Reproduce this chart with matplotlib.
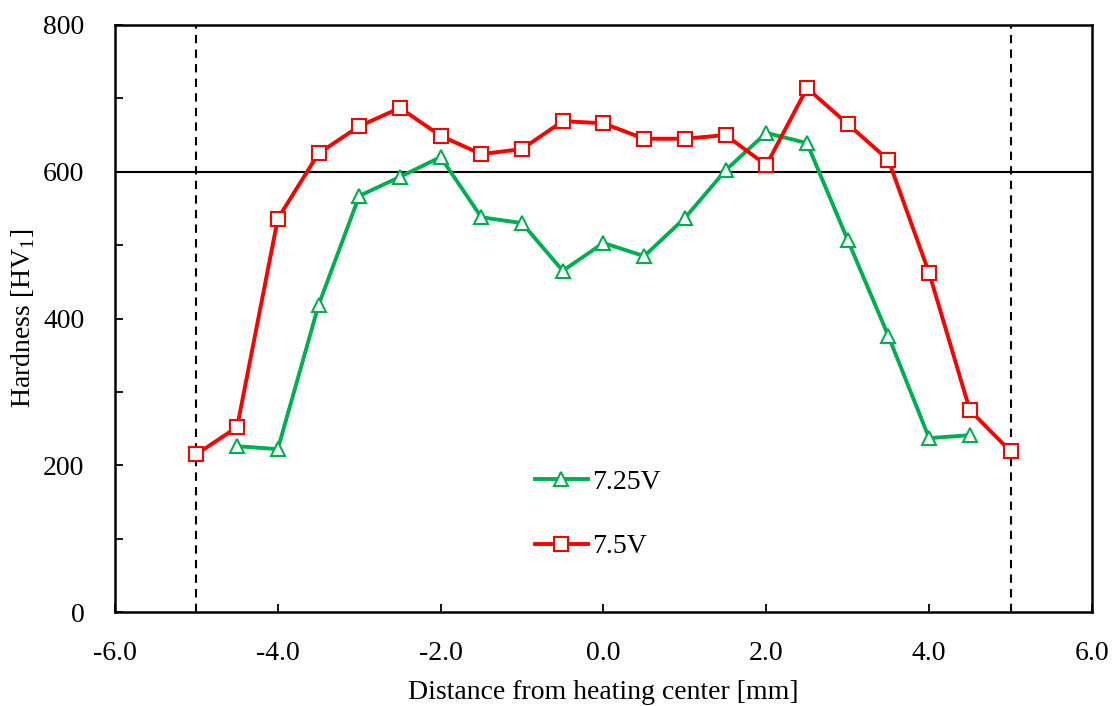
import numpy as np
import matplotlib.pyplot as plt
from matplotlib.ticker import MultipleLocator

plt.rcParams['font.family'] = ['Liberation Serif', 'DejaVu Serif']
plt.rcParams['mathtext.fontset'] = 'custom'
plt.rcParams['mathtext.rm'] = 'Liberation Serif'

# data
x_725 = [-4.5, -4.0, -3.5, -3.0, -2.5, -2.0, -1.5, -1.0, -0.5, 0.0,
         0.5, 1.0, 1.5, 2.0, 2.5, 3.0, 3.5, 4.0, 4.5]
hv_725 = [226, 222, 418, 567, 593, 620, 538, 530, 465, 503,
          485, 537, 602, 653, 639, 507, 376, 237, 241]

x_75 = [-5.0, -4.5, -4.0, -3.5, -3.0, -2.5, -2.0, -1.5, -1.0, -0.5, 0.0,
        0.5, 1.0, 1.5, 2.0, 2.5, 3.0, 3.5, 4.0, 4.5, 5.0]
hv_75 = [215, 252, 536, 625, 662, 687, 649, 624, 631, 669, 666,
         645, 645, 650, 609, 714, 665, 616, 462, 275, 219]

labels = ['7.25V', '7.5V']
edge_x = [-5.0, 5.0]
threshold = 600

fig = plt.figure(figsize=(11.12, 7.06), dpi=100)
ax = fig.add_axes([0.1034, 0.1331, 0.8786, 0.8315])

ax.plot(x_725, hv_725, color='#00b050', lw=2.8, marker='^', ms=10.5,
        mfc='white', mec='#00b050', mew=1.5, label=labels[0], zorder=3)
ax.plot(x_75, hv_75, color='#ff0000', lw=2.8, marker='s', ms=10.5,
        mfc='white', mec='#ff0000', mew=1.5, label=labels[1], zorder=4)

for xv in edge_x:
    ax.axvline(xv, color='black', ls=(0, (4, 3)), lw=1.5, zorder=2)
ax.axhline(threshold, color='black', lw=1.5, zorder=2)

ax.set_xlim(-6, 6)
ax.set_ylim(0, 800)
ax.xaxis.set_major_locator(MultipleLocator(2))
ax.yaxis.set_major_locator(MultipleLocator(200))
ax.yaxis.set_minor_locator(MultipleLocator(100))
ax.xaxis.set_major_formatter(plt.FuncFormatter(lambda v, p: f'{v:.1f}'))
ax.tick_params(axis='both', which='both', direction='in', length=6,
               width=1.3, labelsize=20)
ax.tick_params(axis='x', pad=21)
ax.tick_params(axis='y', pad=22)
for s in ax.spines.values():
    s.set_linewidth(1.8)

ax.set_xlabel('Distance from heating center [mm]', fontsize=20, labelpad=10)
ax.set_ylabel('Hardness [HV$_{\\rm 1}$]', fontsize=20, labelpad=4)

ax.legend(loc='center left', bbox_to_anchor=(0.43, 0.166), frameon=False,
          fontsize=20, handlelength=1.9, labelspacing=1.4, handletextpad=0.15,
          borderpad=0, borderaxespad=0)

fig.savefig('out.png', dpi=100)
